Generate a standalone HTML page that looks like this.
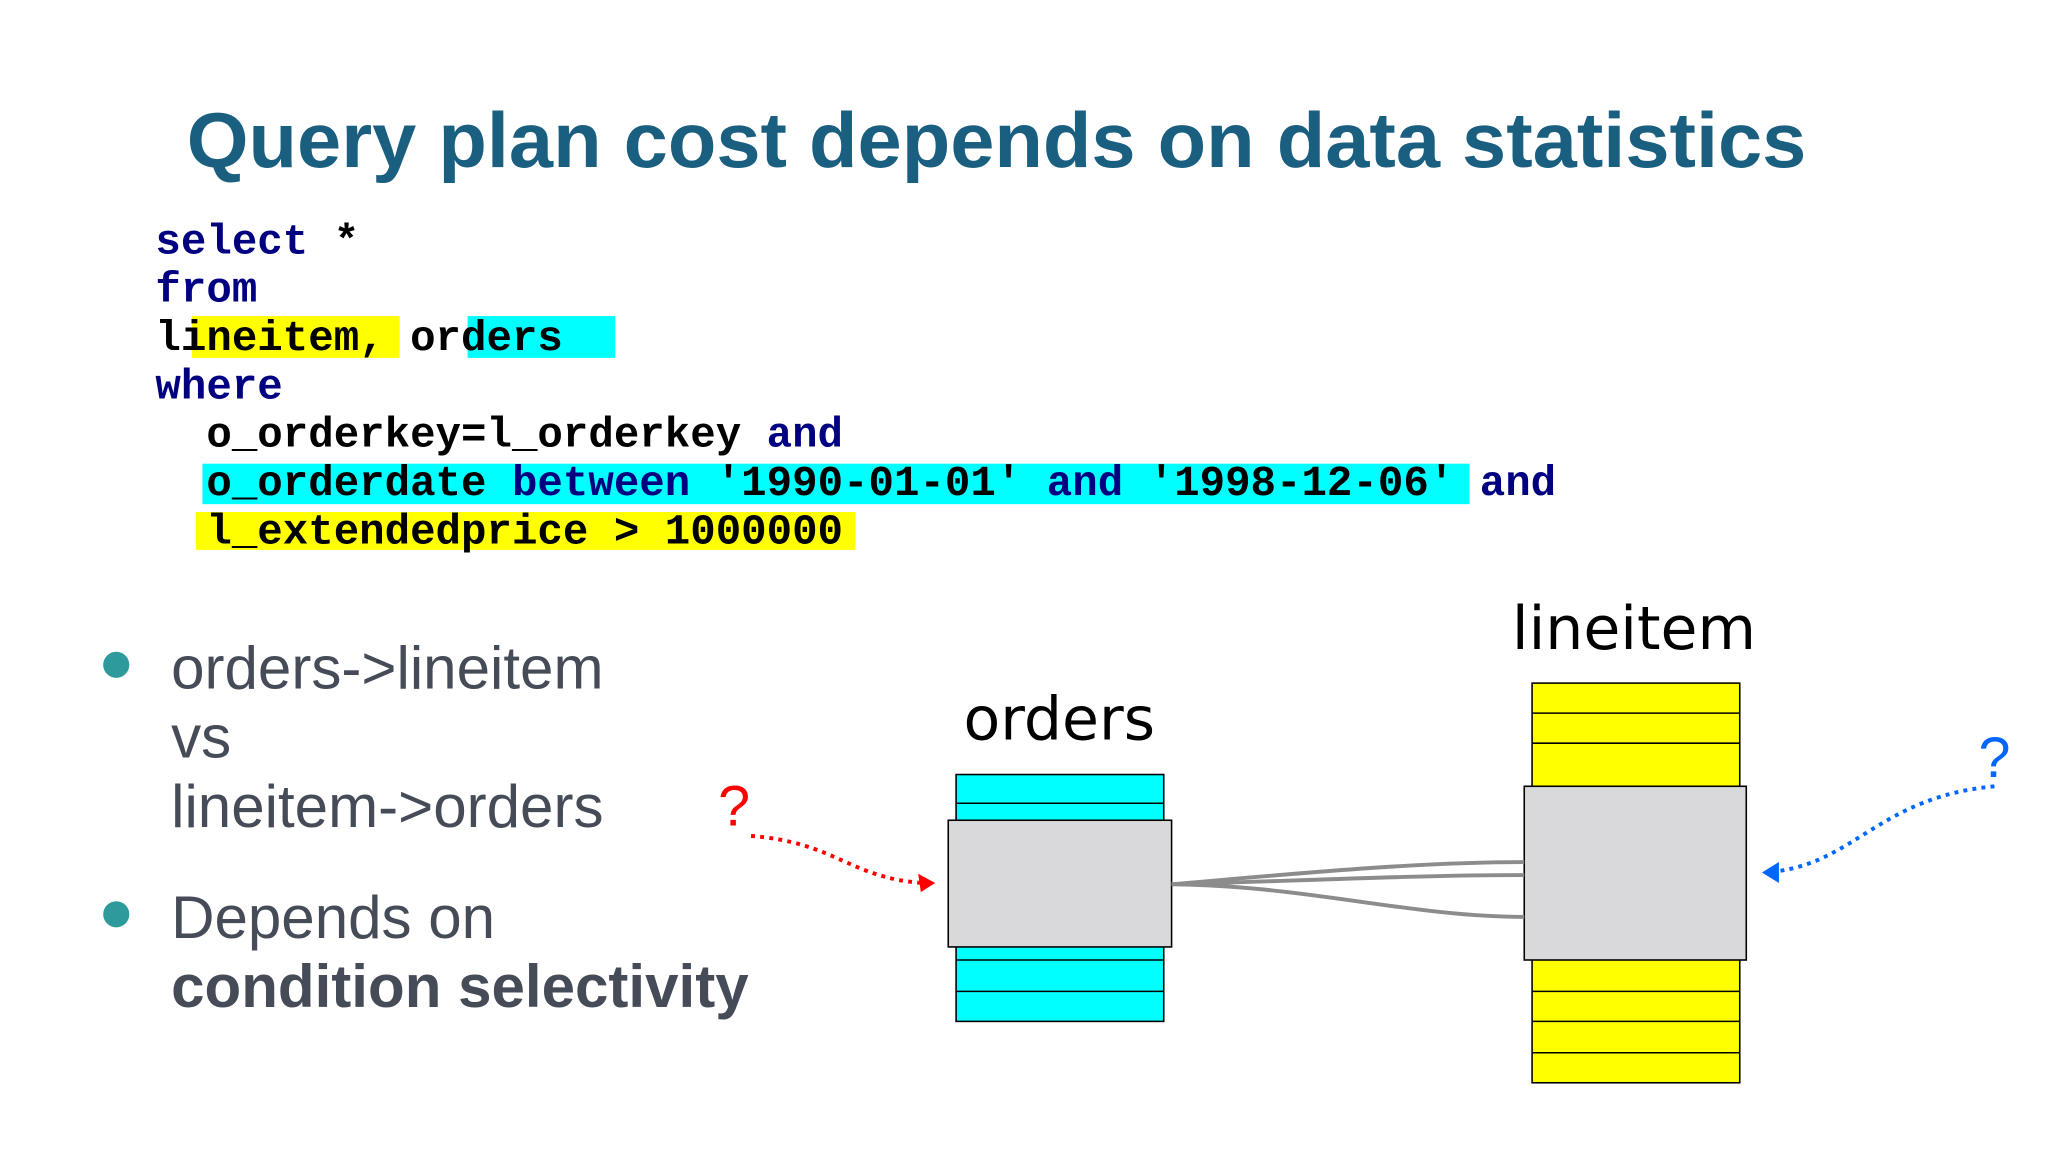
<!DOCTYPE html>
<html><head><meta charset="utf-8"><style>
html,body{margin:0;padding:0;background:#fff;}
svg{display:block}
</style></head><body>
<svg width="2048" height="1152" viewBox="0 0 1568 882" xmlns="http://www.w3.org/2000/svg">
<rect width="1568" height="882" fill="#ffffff"/>
<text x="143" y="128" font-family="Liberation Sans, sans-serif" font-weight="bold" font-size="60" fill="#1b5f80" textLength="1240" lengthAdjust="spacingAndGlyphs">Query plan cost depends on data statistics</text>

<!-- highlights -->
<rect x="147" y="242" width="159" height="32" fill="#ffff00"/>
<rect x="358" y="242" width="113" height="32" fill="#00ffff"/>
<rect x="155" y="355" width="970" height="31" fill="#00ffff"/>
<rect x="150" y="392" width="505" height="29" fill="#ffff00"/>

<g font-family="Liberation Mono, monospace" font-weight="bold" font-size="32.5">
<text x="119" y="194" fill="#000080">select <tspan fill="#000">*</tspan></text>
<text x="119" y="231" fill="#000080">from</text>
<text x="119" y="268" fill="#000">  lineitem, orders</text>
<text x="119" y="305" fill="#000080">where</text>
<text x="119" y="342" fill="#000" xml:space="preserve">  o_orderkey=l_orderkey <tspan fill="#000080">and</tspan></text>
<text x="119" y="379" fill="#000" xml:space="preserve">  o_orderdate <tspan fill="#000080">between</tspan> '1990-01-01' <tspan fill="#000080">and</tspan> '1998-12-06' <tspan fill="#000080">and</tspan></text>
<text x="119" y="416" fill="#000" xml:space="preserve">  l_extendedprice &gt; 1000000</text>
</g>

<!-- bullets -->
<circle cx="89" cy="509" r="10" fill="#2f9a9b"/>
<circle cx="89" cy="700" r="10" fill="#2f9a9b"/>
<g font-family="Liberation Sans, sans-serif" font-size="46" fill="#454b57">
<text x="131" y="527">orders-&gt;lineitem</text>
<text x="131" y="580">vs</text>
<text x="131" y="633">lineitem-&gt;orders</text>
<text x="131" y="718">Depends on</text>
<text x="131" y="771" font-weight="bold">condition selectivity</text>
</g>

<!-- labels -->
<g font-family="DejaVu Sans, Liberation Sans, sans-serif" font-size="46" fill="#000" text-anchor="middle">
<text x="811" y="566">orders</text>
<text x="1251" y="497">lineitem</text>
</g>

<!-- orders column -->
<rect x="732" y="593" width="159" height="189" fill="#00ffff" stroke="#000" stroke-width="1.2"/>
<g stroke="#000" stroke-width="1.2">
<line x1="732" y1="615" x2="891" y2="615"/>
<line x1="732" y1="735" x2="891" y2="735"/>
<line x1="732" y1="759" x2="891" y2="759"/>
</g>
<rect x="726" y="628" width="171" height="97" fill="#d9d8da" stroke="#000" stroke-width="1.2"/>

<!-- lineitem column -->
<rect x="1173" y="523" width="159" height="306" fill="#ffff00" stroke="#000" stroke-width="1.2"/>
<g stroke="#000" stroke-width="1.2">
<line x1="1173" y1="546" x2="1332" y2="546"/>
<line x1="1173" y1="569" x2="1332" y2="569"/>
<line x1="1173" y1="759" x2="1332" y2="759"/>
<line x1="1173" y1="782" x2="1332" y2="782"/>
<line x1="1173" y1="806" x2="1332" y2="806"/>
</g>
<rect x="1167" y="602" width="170" height="133" fill="#d9d8da" stroke="#000" stroke-width="1.2"/>

<!-- connectors -->
<g stroke="#8c8c8c" stroke-width="3" fill="none">
<path d="M897 677 C 980 670, 1080 660, 1167 660"/>
<path d="M897 677 C 980 675, 1080 670, 1167 670"/>
<path d="M897 677 C 1000 678, 1080 702, 1167 702"/>
</g>

<!-- red ? and arrow -->
<text x="562" y="632" font-family="Liberation Sans, sans-serif" font-size="44" fill="#ff0000" text-anchor="middle">?</text>
<path d="M575 640 C 640 645, 650 672, 706 676" stroke="#ff0000" stroke-width="3" stroke-dasharray="3 4" fill="none"/>
<polygon points="716,676 703,669 705,683" fill="#ff0000"/>

<!-- blue ? and arrow -->
<text x="1527" y="595" font-family="Liberation Sans, sans-serif" font-size="44" fill="#0066ff" text-anchor="middle">?</text>
<path d="M1527 602 C 1440 610, 1420 660, 1360 667" stroke="#0066ff" stroke-width="3" stroke-dasharray="3 4" fill="none"/>
<polygon points="1349,668 1362,660 1362,676" fill="#0066ff"/>
</svg>
</body></html>
